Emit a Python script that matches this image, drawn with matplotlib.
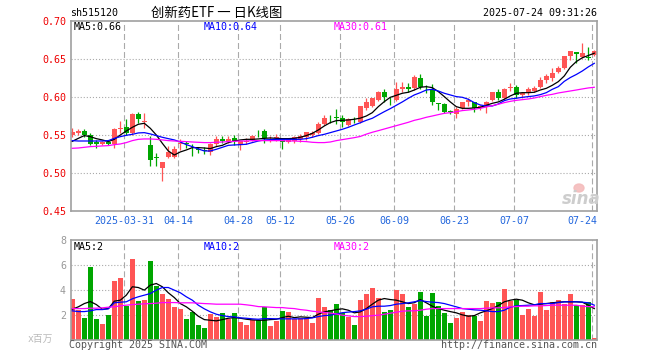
import matplotlib
matplotlib.use("Agg")
import matplotlib.pyplot as plt
from matplotlib.patches import Ellipse
import numpy as np

plt.rcParams["font.family"] = ["DejaVu Sans Mono", "Noto Sans CJK SC"]
plt.rcParams["lines.scale_dashes"] = False

# daily candles, 2025-03-18 .. 2025-07-24 (88 trading days)
OPEN = [0.551, 0.553, 0.556, 0.550, 0.5415, 0.539, 0.5415, 0.5385, 0.558, 0.561,
        0.5525, 0.5775, 0.5675, 0.537, 0.521, 0.5075, 0.521, 0.522, 0.5385, 0.540,
        0.535, 0.532, 0.531, 0.5285, 0.538, 0.545, 0.5415, 0.5465, 0.537, 0.541,
        0.544, 0.5535, 0.5555, 0.546, 0.5465, 0.545, 0.5415, 0.5425, 0.5445, 0.5475,
        0.550, 0.5535, 0.5645, 0.5715, 0.574, 0.573, 0.5636, 0.5705, 0.568, 0.5855,
        0.5886, 0.5965, 0.6066, 0.598, 0.5965, 0.6105, 0.614, 0.6118, 0.625, 0.6125,
        0.6096, 0.592, 0.5912, 0.5815, 0.578, 0.5855, 0.594, 0.5943, 0.5864, 0.5877,
        0.5965, 0.6066, 0.5987, 0.6118, 0.6132, 0.6031, 0.6066, 0.6083, 0.6132, 0.6228,
        0.6259, 0.6338, 0.6382, 0.6548, 0.660, 0.6526, 0.6535, 0.6557]
HIGH = [0.559, 0.558, 0.558, 0.553, 0.544, 0.5425, 0.544, 0.559, 0.569, 0.571,
        0.580, 0.5805, 0.5795, 0.549, 0.527, 0.515, 0.536, 0.536, 0.545, 0.542,
        0.539, 0.535, 0.535, 0.540, 0.549, 0.5495, 0.5495, 0.5505, 0.542, 0.546,
        0.5505, 0.557, 0.5585, 0.549, 0.552, 0.546, 0.547, 0.549, 0.552, 0.5545,
        0.5555, 0.568, 0.577, 0.577, 0.584, 0.5765, 0.5724, 0.5745, 0.5886, 0.5987,
        0.5996, 0.6088, 0.6105, 0.601, 0.620, 0.620, 0.6184, 0.6294, 0.6303, 0.6162,
        0.6175, 0.593, 0.593, 0.5833, 0.5877, 0.5943, 0.599, 0.5943, 0.590, 0.5952,
        0.6066, 0.611, 0.6127, 0.6193, 0.6162, 0.6075, 0.6132, 0.6154, 0.6272, 0.6303,
        0.6382, 0.6417, 0.6544, 0.6614, 0.660, 0.6711, 0.6658, 0.6623]
LOW = [0.548, 0.550, 0.548, 0.537, 0.533, 0.537, 0.537, 0.533, 0.5525, 0.550,
       0.550, 0.5665, 0.560, 0.510, 0.509, 0.490, 0.520, 0.520, 0.531, 0.533,
       0.5228, 0.527, 0.526, 0.524, 0.536, 0.5395, 0.5395, 0.537, 0.5305, 0.538,
       0.543, 0.5475, 0.540, 0.5415, 0.543, 0.5315, 0.540, 0.540, 0.5415, 0.544,
       0.548, 0.552, 0.5635, 0.566, 0.565, 0.5615, 0.5623, 0.5665, 0.5667, 0.5833,
       0.5877, 0.5952, 0.5943, 0.590, 0.5956, 0.6075, 0.6075, 0.6096, 0.6105, 0.6061,
       0.590, 0.5833, 0.5798, 0.578, 0.5724, 0.5842, 0.588, 0.5811, 0.5833, 0.580,
       0.5952, 0.5965, 0.5978, 0.6083, 0.5987, 0.5987, 0.6031, 0.6066, 0.6118, 0.6184,
       0.6215, 0.6316, 0.6368, 0.6491, 0.6447, 0.6513, 0.6491, 0.6548]
CLOSE = [0.555, 0.556, 0.550, 0.539, 0.539, 0.541, 0.539, 0.5585, 0.559, 0.5525,
         0.578, 0.571, 0.569, 0.518, 0.520, 0.515, 0.528, 0.5325, 0.5405, 0.538,
         0.534, 0.531, 0.530, 0.538, 0.545, 0.5425, 0.545, 0.543, 0.542, 0.5425,
         0.549, 0.5525, 0.546, 0.547, 0.5475, 0.541, 0.545, 0.5475, 0.549, 0.5545,
         0.5535, 0.5645, 0.573, 0.571, 0.573, 0.5675, 0.571, 0.570, 0.5886, 0.5943,
         0.5996, 0.6075, 0.601, 0.5974, 0.6105, 0.614, 0.6105, 0.6272, 0.6132, 0.6118,
         0.5943, 0.5912, 0.5811, 0.581, 0.5842, 0.5943, 0.5965, 0.5864, 0.5886, 0.5943,
         0.6066, 0.5987, 0.611, 0.614, 0.6031, 0.6053, 0.6105, 0.6127, 0.6228, 0.6285,
         0.6316, 0.639, 0.6544, 0.6614, 0.6566, 0.6588, 0.6513, 0.661]
MA5 = [0.5421, 0.546, 0.5496, 0.5482, 0.5456, 0.5439, 0.5417, 0.5447, 0.5504, 0.5557,
       0.5605, 0.5645, 0.5658, 0.5592, 0.5504, 0.5395, 0.5294, 0.5241, 0.5281, 0.5307,
       0.5338, 0.5338, 0.5333, 0.5325, 0.5351, 0.5368, 0.5404, 0.5425, 0.5439, 0.5447,
       0.5447, 0.5452, 0.546, 0.5465, 0.546, 0.5456, 0.5456, 0.546, 0.5474, 0.5496,
       0.5526, 0.557, 0.5623, 0.5667, 0.5693, 0.5697, 0.5702, 0.5711, 0.5726, 0.5754,
       0.5798, 0.5877, 0.5943, 0.600, 0.6026, 0.6053, 0.6066, 0.6096, 0.6132, 0.614,
       0.6127, 0.6075, 0.6009, 0.5939, 0.5877, 0.5855, 0.5855, 0.586, 0.5868, 0.5895,
       0.5921, 0.5939, 0.5974, 0.6018, 0.6053, 0.6061, 0.6061, 0.6066, 0.6096, 0.6118,
       0.6158, 0.6206, 0.6281, 0.6395, 0.647, 0.652, 0.655, 0.658]
MA10 = [0.543, 0.5425, 0.5425, 0.5425, 0.5425, 0.5425, 0.543, 0.546, 0.5482, 0.550,
        0.5513, 0.5531, 0.5535, 0.5518, 0.5496, 0.5474, 0.5456, 0.5439, 0.5412, 0.5377,
        0.5351, 0.532, 0.5294, 0.5294, 0.5316, 0.5342, 0.5368, 0.5373, 0.5377, 0.5382,
        0.5404, 0.5425, 0.5439, 0.5443, 0.5447, 0.5447, 0.5447, 0.5447, 0.5447, 0.5456,
        0.5474, 0.5496, 0.5513, 0.5535, 0.5557, 0.5579, 0.5605, 0.5636, 0.5665, 0.5697,
        0.5724, 0.5768, 0.5811, 0.5851, 0.5895, 0.5939, 0.5987, 0.6031, 0.6061, 0.6096,
        0.6105, 0.6083, 0.6053, 0.6031, 0.6009, 0.600, 0.5974, 0.593, 0.5899, 0.5886,
        0.5886, 0.5912, 0.5956, 0.5978, 0.5987, 0.600, 0.6009, 0.6018, 0.6035, 0.6061,
        0.6105, 0.614, 0.621, 0.626, 0.630, 0.6346, 0.640, 0.6447]
MA30 = [0.5329, 0.5333, 0.5342, 0.5351, 0.5355, 0.536, 0.5364, 0.5377, 0.5386, 0.5404,
        0.543, 0.5447, 0.5452, 0.5452, 0.5447, 0.5439, 0.543, 0.5425, 0.5421, 0.5417,
        0.5412, 0.5408, 0.5404, 0.5404, 0.5408, 0.5412, 0.5417, 0.5421, 0.5425, 0.5425,
        0.543, 0.543, 0.543, 0.543, 0.543, 0.543, 0.5425, 0.5425, 0.5421, 0.5417,
        0.5408, 0.5404, 0.5404, 0.5412, 0.543, 0.5443, 0.5456, 0.5469, 0.5485, 0.5515,
        0.554, 0.5561, 0.5583, 0.5605, 0.5627, 0.5649, 0.5671, 0.5697, 0.5715, 0.5737,
        0.5754, 0.5772, 0.5789, 0.5798, 0.5811, 0.5825, 0.5833, 0.5842, 0.5855, 0.5873,
        0.589, 0.5908, 0.593, 0.5947, 0.596, 0.5969, 0.5978, 0.5991, 0.6009, 0.6026,
        0.6039, 0.6057, 0.607, 0.6083, 0.6096, 0.611, 0.6123, 0.6132]

# volume, millions
VOLUME = [3.3, 2.45, 1.78, 5.87, 1.69, 1.29, 2.0, 4.75, 4.98, 2.73,
          6.49, 3.13, 3.2, 6.33, 4.33, 3.69, 3.3, 2.64, 2.49, 1.69,
          2.24, 1.2, 0.98, 2.09, 1.84, 2.18, 1.73, 2.18, 1.44, 1.2,
          1.6, 1.6, 2.64, 1.13, 1.53, 2.3, 2.24, 1.69, 1.78, 1.78,
          1.38, 3.38, 2.64, 2.38, 2.88, 2.16, 1.87, 1.2, 3.2, 3.68,
          4.16, 3.36, 2.24, 2.4, 4.0, 3.68, 2.64, 2.88, 3.84, 1.92,
          3.76, 2.72, 2.16, 1.36, 1.76, 2.24, 2.0, 1.92, 1.52, 3.12,
          2.96, 3.04, 4.08, 3.12, 3.2, 2.0, 2.48, 1.92, 3.84, 2.4,
          3.04, 3.2, 2.88, 3.68, 2.8, 2.8, 3.04, 0.16]
VOL_MA5 = [2.48, 2.67, 2.93, 3.09, 2.85, 2.48, 2.53, 3.12, 3.2, 3.6,
           4.27, 4.21, 4.0, 4.4, 4.53, 4.27, 3.79, 3.41, 2.93, 2.67,
           2.32, 1.92, 1.65, 1.6, 1.55, 1.65, 1.76, 1.81, 1.76, 1.68,
           1.63, 1.6, 1.6, 1.65, 1.68, 1.81, 1.92, 1.81, 1.87, 1.84,
           1.81, 2.08, 2.27, 2.35, 2.45, 2.51, 2.4, 2.19, 2.27, 2.53,
           2.88, 3.2, 3.33, 3.25, 3.2, 3.07, 2.93, 3.0, 3.25, 2.99,
           2.72, 2.53, 2.4, 2.29, 2.19, 2.03, 1.92, 1.97, 2.19, 2.35,
           2.53, 2.77, 3.07, 3.2, 3.28, 3.2, 2.99, 2.83, 2.88, 2.93,
           2.99, 3.04, 3.07, 3.07, 3.07, 3.04, 2.8, 2.53]
VOL_MA10 = [2.35, 2.29, 2.29, 2.35, 2.45, 2.45, 2.51, 2.99, 3.04, 3.07,
            3.31, 3.47, 3.6, 3.73, 4.0, 4.21, 4.21, 4.0, 3.79, 3.47,
            3.2, 2.8, 2.51, 2.27, 2.08, 1.97, 1.89, 1.87, 1.79, 1.76,
            1.71, 1.68, 1.73, 1.73, 1.71, 1.71, 1.71, 1.71, 1.71, 1.73,
            1.79, 1.89, 1.97, 2.0, 2.1, 2.2, 2.25, 2.29, 2.35, 2.48,
            2.67, 2.72, 2.72, 2.77, 2.88, 2.93, 2.99, 3.07, 3.17, 3.09,
            3.04, 3.01, 2.93, 2.8, 2.67, 2.53, 2.48, 2.43, 2.4, 2.35,
            2.29, 2.29, 2.4, 2.64, 2.75, 2.77, 2.8, 2.83, 2.93, 2.93,
            2.93, 3.01, 3.07, 3.07, 3.07, 3.04, 2.99, 2.8]
VOL_MA30 = [2.53, 2.53, 2.53, 2.56, 2.56, 2.59, 2.64, 2.67, 2.75, 2.8,
            2.85, 2.88, 2.91, 2.93, 2.96, 3.01, 3.01, 3.01, 2.99, 2.99,
            2.99, 2.96, 2.93, 2.91, 2.88, 2.88, 2.88, 2.88, 2.88, 2.83,
            2.77, 2.69, 2.67, 2.64, 2.61, 2.61, 2.56, 2.53, 2.45, 2.4,
            2.32, 2.27, 2.22, 2.17, 2.1, 2.0, 1.95, 1.89, 1.89, 1.92,
            1.97, 2.0, 2.08, 2.16, 2.24, 2.32, 2.35, 2.35, 2.4, 2.48,
            2.53, 2.53, 2.53, 2.53, 2.53, 2.53, 2.53, 2.53, 2.53, 2.56,
            2.59, 2.59, 2.61, 2.67, 2.69, 2.72, 2.72, 2.75, 2.75, 2.77,
            2.8, 2.8, 2.8, 2.8, 2.8, 2.72, 2.69, 2.67]

TICK_IDX = [9, 18, 28, 35, 45, 54, 64, 74, 87]
TICK_LABELS = ["2025-03-31", "04-14", "04-28", "05-12", "05-26",
               "06-09", "06-23", "07-07", "07-24"]
PRICE_TICKS = [0.45, 0.50, 0.55, 0.60, 0.65, 0.70]
VOL_TICKS = [2, 4, 6, 8]

RED = "#ff5555"
GREEN = "#00a600"
FRAME = "#a0a0a0"
GRID = "#aaaaaa"
BLUE = "#0000ff"
MAGENTA = "#ff00ff"
TICKBLUE = "#2266dd"

W, H = 660, 360
fig = plt.figure(figsize=(W / 100, H / 100), dpi=100)


def px_axes(left, top, right, bottom):
    return fig.add_axes([left / W, 1 - bottom / H, (right - left) / W, (bottom - top) / H])


def ftext(xp, yp, s, **kw):
    fig.text(xp / W, 1 - yp / H, s, va="center", **kw)


ax = px_axes(70.7, 21.3, 597.3, 211.3)
axv = px_axes(70.7, 240, 597.3, 340.3)

x = np.arange(len(CLOSE))
o, h, l, c = (np.array(a) for a in (OPEN, HIGH, LOW, CLOSE))
colors = np.where(c >= o, RED, GREEN)

for a in (ax, axv):
    a.set_xlim(-0.27, 87.5)
    for s in a.spines.values():
        s.set_color(FRAME)
        s.set_linewidth(1.2)
    a.set_xticks([])
    a.tick_params(axis="y", length=0, pad=3.4, labelsize=7.2)
    for t in TICK_IDX:
        a.axvline(t - 0.33, color=GRID, lw=0.8, linestyle=(0, (4.3, 2.2)), zorder=0)

# price panel
ax.set_ylim(0.45, 0.70)
for y in PRICE_TICKS[1:-1]:
    ax.axhline(y, color=GRID, lw=0.8, linestyle=(0, (0.8, 1.4)), zorder=0)
ax.vlines(x, l, h, colors=colors, lw=0.9, zorder=2)
ax.bar(x, np.maximum(np.abs(c - o), 0.0007), bottom=np.minimum(o, c),
       width=0.74, color=colors, linewidth=0, zorder=2)
ax.plot(x, MA5, color="black", lw=0.9, zorder=3)
ax.plot(x, MA10, color=BLUE, lw=0.9, zorder=3)
ax.plot(x, MA30, color=MAGENTA, lw=0.9, zorder=3)
ax.set_yticks(PRICE_TICKS, [f"{v:.2f}" for v in PRICE_TICKS])
ax.tick_params(axis="y", labelcolor="#ee0000")

for t, lab in zip(TICK_IDX, TICK_LABELS):
    last = t == TICK_IDX[-1]
    ax.text(87.45 if last else t - 0.33, -0.053, lab, transform=ax.get_xaxis_transform(),
            ha="right" if last else "center", va="center", fontsize=7.2, color=TICKBLUE)

# volume panel
axv.set_ylim(0, 8)
for y in VOL_TICKS[:-1]:
    axv.axhline(y, color=GRID, lw=0.8, linestyle=(0, (0.8, 1.4)), zorder=0)
axv.bar(x, VOLUME, width=0.84, color=colors, linewidth=0, zorder=2)
axv.plot(x, VOL_MA5, color="black", lw=0.9, zorder=3)
axv.plot(x, VOL_MA10, color=BLUE, lw=0.9, zorder=3)
axv.plot(x, VOL_MA30, color=MAGENTA, lw=0.9, zorder=3)
axv.set_yticks(VOL_TICKS, [str(v) for v in VOL_TICKS])
axv.tick_params(axis="y", labelcolor="#999999")

# texts
ftext(70, 13, "sh515120", fontsize=7.2, color="black")
ftext(151, 13, "创新药ETF 一 日K线图", fontsize=9.6, color="black", family=["Noto Sans CJK SC"])
ftext(597, 13, "2025-07-24 09:31:26", fontsize=7.2, color="black", ha="right")
ftext(74, 27, f"MA5:{MA5[-1]:.2f}", fontsize=7.2, color="black")
ftext(204, 27, f"MA10:{MA10[-1]:.2f}", fontsize=7.2, color=BLUE)
ftext(334, 27, f"MA30:{MA30[-1]:.2f}", fontsize=7.2, color=MAGENTA)
ftext(74, 246.5, f"MA5:{int(VOL_MA5[-1])}", fontsize=7.2, color="black")
ftext(204, 246.5, f"MA10:{int(VOL_MA10[-1])}", fontsize=7.2, color=BLUE)
ftext(334, 246.5, f"MA30:{int(VOL_MA30[-1])}", fontsize=7.2, color=MAGENTA)
ftext(53, 339, "x百万", fontsize=7, color="#bbbbbb", ha="right")
ftext(69, 345.5, "Copyright 2025 SINA.COM", fontsize=7.2, color="#555555")
ftext(597, 345.5, "http://finance.sina.com.cn", fontsize=7.2, color="#555555", ha="right")

# sina watermark
fig.add_artist(Ellipse((579 / W, 1 - 188 / H), 10 / W, 8 / H, color="#f4bcbc", alpha=0.9))
ftext(581, 199, "sina", fontsize=12, color="#cdcdcd", ha="center",
      family=["DejaVu Sans"], fontweight="bold", style="italic")

fig.savefig("out.png", dpi=100)
